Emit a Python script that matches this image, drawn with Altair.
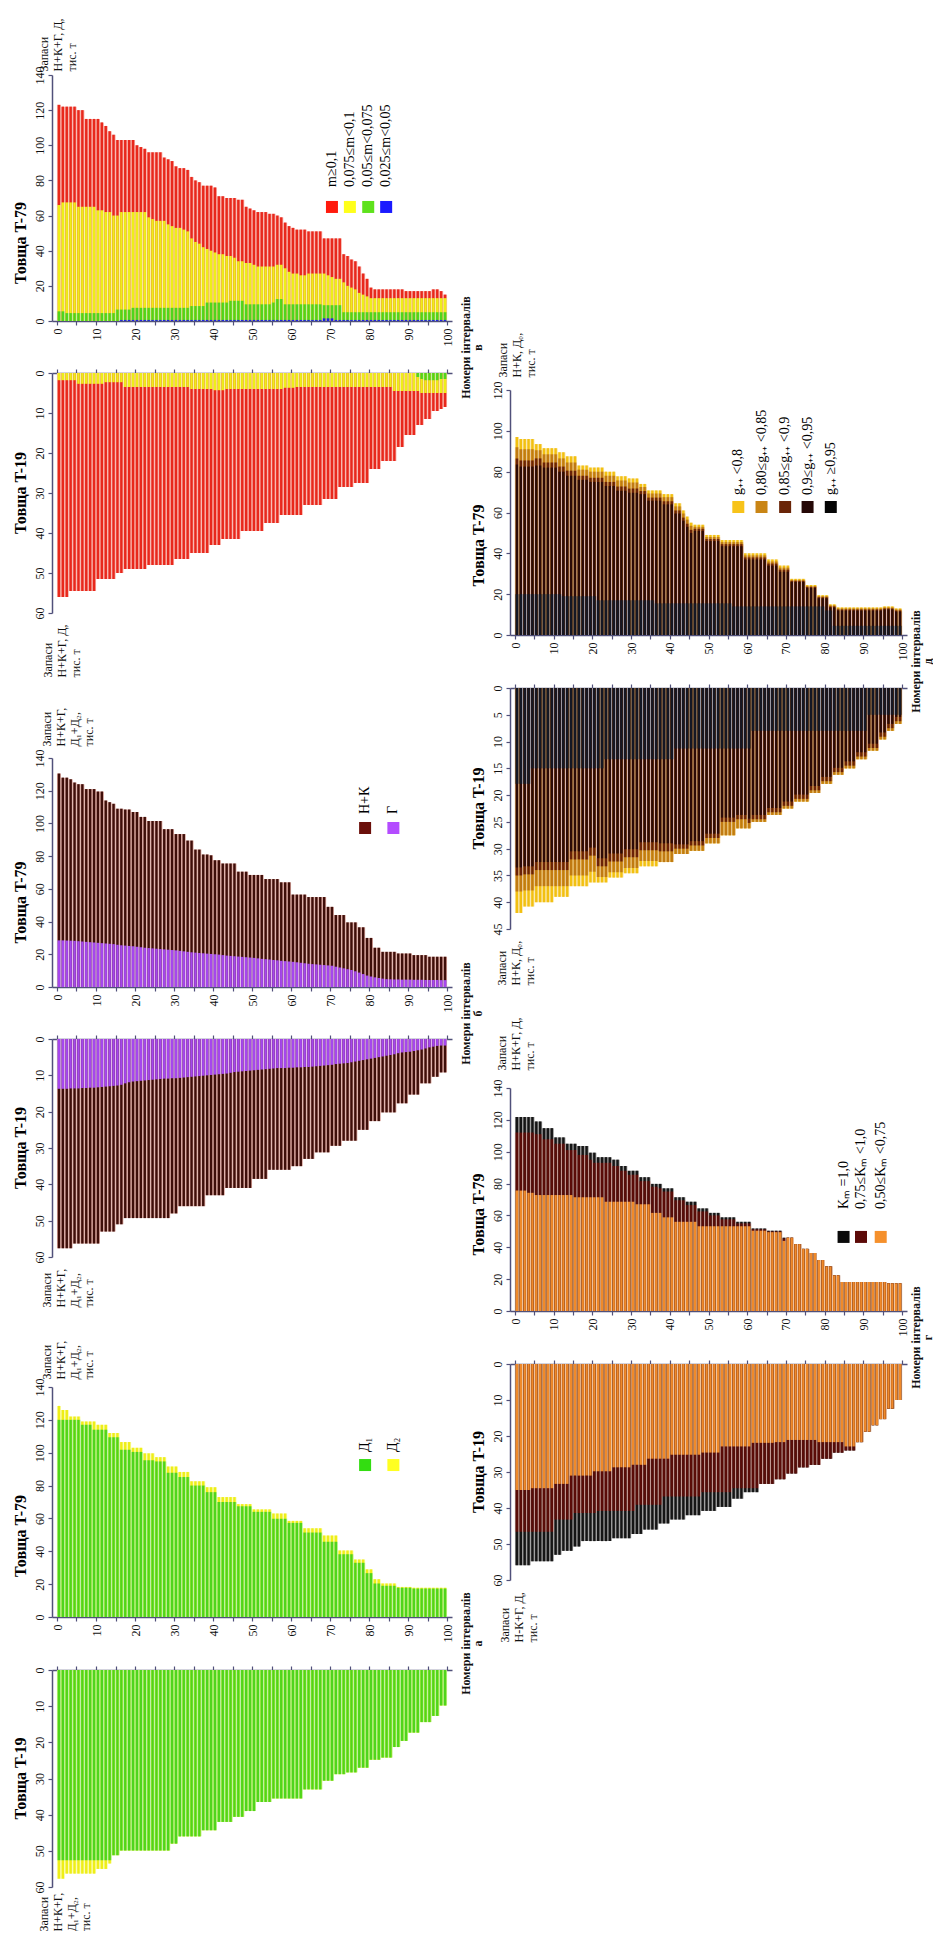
import altair as alt
import pandas as pd

SERIF = "Liberation Serif"
AX = "#50507a"

# ---------------- panel в (m) ----------------
V79_TOTAL = [123,122,122,122,122,120,120,115,115,115,
             115,113,111,108,106,103,103,103,103,103,
             100,99,98,96,96,96,96,93,92,91,
             88,87,87,86,82,80,79,77,77,77,
             76,71,71,70,70,70,69,69,65,64,
             63,62,62,62,61,61,60,59,56,54,
             53,52,52,52,51,51,51,51,47,47,
             47,47,47,38,37,35,34,31,27,24,
             19,18,18,18,18,18,18,18,18,17,
             17,17,17,17,17,17,18,18,17,15]
V79_YEL = [66,67.5,67.5,67.5,67.5,65,65,65,65,65,
           63,63,62,62,60,60,62,62,62,62,
           62,62,62,59,58,57,57,57,55,54,
           53,53,52,51,47,45,44,42,41,40,
           39,38,38,37,37,36,34,34,33,33,
           32,31,31,31,31,31,32,32,30,28,
           27,27,26,26,27,27,27,27,27,26,
           25,24,24,22,20,19,18,16,15,14,
           13,13,13,13,13,13,13,13,13,13,
           13,13,13,13,13,13,13,13,13,13]
V79_GRN = [5.5,5.5,4.5,4.5,4.5,4.5,4.5,4.5,4.5,4.5,
           4.5,4.5,4.5,4.5,4.5,6.5,6.5,6.5,6.5,7.5,
           7.5,7.5,7.5,7.5,7.5,7.5,7.5,7.5,7.5,7.5,
           7.5,7.5,7.5,7.5,8.5,8.5,8.5,8.5,10.5,10.5,
           10.5,10.5,10.5,10.5,11.5,11.5,11.5,11.5,9.5,9.5,
           9.5,9.5,9.5,9.5,9.5,10.5,12.5,12.5,9.5,9.5,
           9.5,9.5,9.5,9.5,9.5,9.5,9.5,9.5,9,9,
           9,9,9,5,5,5,5,5,5,5,
           5,5,5,5,5,5,5,5,5,5,
           5,5,5,5,5,5,5,5,5,5]
V79_BLU = [0,0,0,0,0,0,0,0,0,0,
           0,0,0,0,0,0,0.6,0.6,0.6,0.6,
           0.6,0.6,0.6,0.6,0.6,0.6,0.6,0.6,0.6,0.6,
           0.6,0.6,0.6,0.6,0.6,0.6,0.6,0.6,0.6,0.6,
           0.6,0.6,0.6,0.6,0.6,0.6,0.6,0.6,0.6,0.6,
           0.6,0.6,0.6,0.6,0.6,0.6,0.6,0.6,0.6,0.6,
           0.6,0.6,0.6,0.6,0.6,0.6,0.6,0.6,1.5,1.5,
           1.5,0.6,0.6,0.6,0.6,0.6,0.6,0.6,0.6,0.6,
           0.6,0.6,0.6,0.6,0.6,0.6,0.6,0.6,0.6,0.6,
           0.6,0.6,0.6,0.6,0.6,0.6,0.6,0.6,0.6,0.6]
V19_TOTAL = [56,56,56,54.5,54.5,54.5,54.5,54.5,54.5,54.5,
             51.5,51.5,51.5,51.5,51.5,50,50,49,49,49,
             49,49,49,48,48,48,48,48,48,48,
             46.5,46.5,46.5,46.5,45,45,45,45,45,43,
             43,43,41.5,41.5,41.5,41.5,41.5,39.5,39.5,39.5,
             39.5,39.5,39.5,37.5,37.5,37.5,37.5,35.5,35.5,35.5,
             35.5,35.5,35.5,33,33,33,33,33,31.5,31.5,
             31.5,31.5,28.5,28.5,28.5,28.5,27.5,27.5,27.5,27.5,
             24,24,24,22,22,22,22,18.5,18.5,15.5,
             15.5,15.5,13,13,11.5,11.5,9.5,9.5,9,8.5]
V19_YEL = [1.8,1.8,1.8,1.8,1.8,2.7,2.7,2.7,2.7,2.7,
           2.7,2.7,2.3,2.3,2.3,2.3,2.3,3.5,3.5,3.5,
           3.5,3.5,3.5,3.5,3.5,3.5,3.5,3.5,3.5,3.5,
           3.5,3.5,3.5,3.5,4,4,4,4,4,4,
           4.3,4.3,4.3,4,4,4,4,4,4,4,
           4,4,4,4,4,4,4,4,3.7,3.7,
           3.7,3.5,3.5,3.5,3.5,3.5,3.5,3.5,3.5,3.5,
           3.5,3.5,3.5,3.5,3.5,3.5,3.5,3.5,3.5,3.5,
           3.5,3.5,3.5,3.5,3.5,3.5,4.5,4.5,4.5,4.5,
           4.5,4.5,4.5,5,5,5,5,5,5,5]
V19_GRN = [0,0,0,0,0,0,0,0,0,0,
           0,0,0,0,0,0,0,0,0,0,
           0,0,0,0,0,0,0,0,0,0,
           0,0,0,0,0,0,0,0,0,0,
           0,0,0,0,0,0,0,0,0,0,
           0,0,0,0,0,0,0,0,0,0,
           0,0,0,0,0,0,0,0,0,0,
           0,0,0,0,0,0,0,0,0,0,
           0,0,0,0,0,0,0,0,0,0,
           0,0,1,1.5,1.8,1.8,1.8,1.8,1.5,1.5]

# ---------------- panel б (Н+К, Г) ----------------
B79_TOTAL = [130.5,128,128,127,125,124,124,121,121,121,
             119.5,119.5,114,113,112,109,109,108.5,108.5,107,
             107,104,104,101.5,101.5,101.5,101.5,96.5,96.5,96.5,
             93.5,93.5,93.5,89.5,89.5,84,84,81,81,80.5,
             77.5,77.5,75.5,75.5,75.5,75.5,70.5,70.5,70.5,68.5,
             68.5,68.5,68.5,66,66,66,66,64,64,64,
             56.5,56.5,56.5,56.5,55,55,55,55,55,49,
             49,44,44,44,39.5,39.5,39.5,36.5,36.5,30,
             30,24,24,21.5,21.5,21.5,21.5,20.5,20.5,20.5,
             20.5,19.5,19.5,19.5,19.5,18.5,18.5,18.5,18.5,18.5]
B79_G = [28.5,28.5,28.4,28.3,28.2,28,27.8,27.6,27.4,27.2,
         27,26.8,26.6,26.4,26.2,25.8,25.5,25.3,25.1,24.9,
         24.6,24.3,24,23.8,23.6,23.4,23.2,23,22.8,22.6,
         22.4,22.1,21.8,21.5,21.2,21,20.8,20.6,20.4,20.2,
         20,19.8,19.5,19.2,19,18.8,18.6,18.4,18.2,18,
         17.8,17.5,17.2,17,16.8,16.5,16.3,16,15.8,15.6,
         15.4,15.1,14.8,14.5,14.2,14,13.8,13.6,13.4,13.2,
         13,12.4,11.9,11.4,10.9,10.4,9.6,8.8,7.9,7,
         6.4,5.9,5.5,5.1,4.8,4.7,4.6,4.6,4.5,4.5,
         4.5,4.4,4.4,4.4,4.3,4.3,4.3,4.3,4.2,4.2]
B19_TOTAL = [57.6,57.6,57.6,57.6,56.3,56.3,56.3,56.3,56.3,56.3,
             56.3,53,53,53,53,51,51,49.3,49.3,49.3,
             49.3,49.3,49.3,49.3,49.3,49.3,49.3,49.3,49.3,48,
             48,46,46,46,46,46,46,46,43,43,
             43,43,43,41,41,41,41,41,41,41,
             38.5,38.5,38.5,38.5,36,36,36,36,36,36,
             35,35,35,33,33,33,31.2,31.2,31.2,31.2,
             29.4,29.4,29.4,28,28,28,28,25,25,25,
             22.6,22.6,22.6,20.2,20.2,20.2,20.2,17.7,17.7,17.7,
             15.3,15.3,15.3,12.2,12.2,12.2,10.4,10.4,9.2,9.2]
B19_G = [13.7,13.7,13.7,13.6,13.6,13.6,13.5,13.5,13.4,13.4,
         13.3,13.2,13.1,13,12.9,12.8,12.6,12.2,11.9,11.7,
         11.6,11.5,11.4,11.3,11.2,11.1,11,10.9,10.9,10.8,
         10.8,10.7,10.6,10.5,10.4,10.3,10.2,10.1,10,9.9,
         9.8,9.7,9.6,9.5,9.3,9.1,9,8.9,8.8,8.7,
         8.6,8.5,8.4,8.3,8.2,8.1,8,8,8,7.9,
         7.9,7.8,7.8,7.7,7.7,7.6,7.5,7.4,7.3,7.2,
         7.1,6.9,6.8,6.7,6.6,6.4,6.2,6,5.8,5.6,
         5.4,5.2,5,4.8,4.6,4.4,4.2,3.9,3.7,3.6,
         3.5,3.3,3.1,2.9,2.6,2.3,2.1,1.9,1.8,1.8]

# ---------------- panel а (Д1, Д2) ----------------
A79_TOTAL = [128.5,126,126,122,122,122,119,119,119,119,
             117,117,117,112,112,112,106.5,106.5,106.5,103,
             103,103,99.6,99.6,99.6,97.3,97.3,97.3,91.6,91.6,
             91.6,88.3,88.3,88.3,82.6,82.6,82.6,82.6,79,79,
             79,73,73,73,73,73,68.7,68.7,68.7,68.7,
             65.5,65.5,65.5,65.5,65.5,63,63,63,63,58.5,
             58.5,58.5,58.5,54,54,54,54,54,49.6,49.6,
             49.6,49.6,40.5,40.5,40.5,40.5,35,35,35,29,
             29,23,23,20.4,20.4,20.4,20.4,18.3,18.3,18.3,
             18.3,17.8,17.8,17.8,17.8,17.8,17.8,17.8,17.8,17.8]
A79_D1 = [120,120,120,120,120,120,117,117,117,114,
          114,114,114,109.4,109.4,109.4,101.8,101.8,101.8,100.5,
          100.5,100.5,95.4,95.4,95.4,94.7,94.7,94.7,87.8,87.8,
          87.8,85.2,85.2,85.2,80,80,80,80,76,76,
          76,70,70,70,70,70,67.4,67.4,67.4,67.4,
          64,64,64,64,64,59.8,59.8,59.8,59.8,57.3,
          57.3,57.3,57.3,51.4,51.4,51.4,51.4,51.4,45.8,45.8,
          45.8,45.8,38.2,38.2,38.2,38.2,33,33,33,26.7,
          26.7,20.4,20.4,19,19,19,19,17.8,17.8,17.8,
          17.8,17.3,17.3,17.3,17.3,17.3,17.3,17.3,17.3,17.3]
A19_TOTAL = [57.7,57.7,56.3,56.3,56.3,56.3,56.3,56.3,56.3,56.3,
             55,55,55,53.5,51.2,51.2,49.9,49.9,49.9,49.9,
             49.9,49.9,49.9,49.9,49.9,49.9,49.9,49.9,49.9,48,
             48,46,46,46,46,46,46,44.3,44.3,44.3,
             44.3,42,42,42,42,40.6,40.6,40.6,39,39,
             39,36.5,36.5,36.5,36.5,35.5,35.5,35.5,35.5,35.5,
             35.5,35.5,35.5,33,33,33,33,33,30.6,30.6,
             30.6,28.8,28.8,28.8,28.3,28.3,28.3,27,27,27,
             24.8,24.8,24.8,24.2,24.2,24.2,21.3,21.3,19.6,19.6,
             17.3,17.3,17.3,14.4,14.4,14.4,12.7,12.7,9.8,9.8]
A19_D1 = [52.6,52.6,52.6,52.6,52.6,52.6,52.6,52.6,52.6,52.6,
          52.6,52.6,52.6,52.6,51.2,51.2,49.9,49.9,49.9,49.9,
          49.9,49.9,49.9,49.9,49.9,49.9,49.9,49.9,49.9,48,
          48,46,46,46,46,46,46,44.3,44.3,44.3,
          44.3,42,42,42,42,40.6,40.6,40.6,39,39,
          39,36.5,36.5,36.5,36.5,35.5,35.5,35.5,35.5,35.5,
          35.5,35.5,35.5,33,33,33,33,33,30.6,30.6,
          30.6,28.8,28.8,28.8,28.3,28.3,28.3,27,27,27,
          24.8,24.8,24.8,24.2,24.2,24.2,21.3,21.3,19.6,19.6,
          17.3,17.3,17.3,14.4,14.4,14.4,12.7,12.7,9.8,9.8]

# ---------------- panel д (g) ----------------
D79_TOTAL = [97,96,96,96,96,93.5,93.5,91.5,91.5,91.5,
             91.5,89.5,89.5,87.5,87.5,87.5,83,83,83,82,
             82,82,82,80,80,80,77.7,77.7,77.7,76.7,
             76.7,76.7,74,74,70.8,70.8,70.8,70.8,69,69,
             69,64.5,64.5,61,58,55,54,54,54,49,
             49,49,49,46.5,46.5,46.5,46.5,46.5,46.5,40,
             40,40,40,40,40,37,37,37,34,34,
             34,27.5,27.5,27.5,27.5,24.5,24.5,24.5,19.5,19.5,
             19.5,15,15,13.5,13.5,13.5,13.5,13.5,13.5,13.5,
             13.5,13.5,13.5,13.5,13.5,14,14,14,13,13]
D79_L80 = [92,91,91,91,91,90.5,90.5,88.5,88.5,88.5,
           88.5,86.5,86.5,84.5,84.5,84.5,81,81,81,80,
           80,80,80,78,78,78,75.7,75.7,75.7,74.7,
           74.7,74.7,72.5,72.5,69.3,69.3,69.3,69.3,67.5,67.5,
           67.5,63,63,59.5,56.5,53.5,53,53,53,48,
           48,48,48,45.5,45.5,45.5,45.5,45.5,45.5,39,
           39,39,39,39,39,36,36,36,33,33,
           33,27,27,27,27,24,24,24,19,19,
           19,14.5,14.5,13,13,13,13,13,13,13,
           13,13,13,13,13,13.5,13.5,13.5,12.5,12.5]
D79_L85 = [86.5,85.5,85.5,85.5,85.5,86.5,86.5,84.5,84.5,84.5,
           84.5,82.5,82.5,80.5,80.5,80.5,78,78,78,77,
           77,77,77,75,75,75,72.7,72.7,72.7,71.7,
           71.7,71.7,70.5,70.5,67.3,67.3,67.3,67.3,65.5,65.5,
           65.5,61,61,57.5,54.5,51.5,52,52,52,47,
           47,47,47,44.5,44.5,44.5,44.5,44.5,44.5,38,
           38,38,38,38,38,35,35,35,32,32,
           32,26.5,26.5,26.5,26.5,23.5,23.5,23.5,18.5,18.5,
           18.5,14,14,12.5,12.5,12.5,12.5,12.5,12.5,12.5,
           12.5,12.5,12.5,12.5,12.5,13,13,13,12,12]
D79_L90 = [83.5,82.5,82.5,82.5,82.5,83,83,82,82,82,
           82,80,80,78,78,78,76,76,76,75,
           75,75,75,73,73,73,70.7,70.7,70.7,69.7,
           69.7,69.7,69,69,65.8,65.8,65.8,65.8,64,64,
           64,59.5,59.5,56,53,50,51,51,51,46,
           46,46,46,43.5,43.5,43.5,43.5,43.5,43.5,37,
           37,37,37,37,37,34,34,34,31,31,
           31,26,26,26,26,23,23,23,18,18,
           18,13.5,13.5,12,12,12,12,12,12,12,
           12,12,12,12,12,12.5,12.5,12.5,11.5,11.5]
D79_L95 = [20,20,20,20,20,20,20,20,20,20,
           20,20,19,19,19,19,19,19,19,19,
           19,17,17,17,17,17,17,17,17,17,
           17,17,17,17,17,17,15.5,15.5,15.5,15.5,
           15.5,15.5,15.5,15.5,15.5,15.5,15.5,15.5,15.5,15.5,
           15.5,15.5,15.5,15.5,15.5,15.5,14,14,14,14,
           14,14,14,14,14,14,14,14,14,14,
           14,14,14,14,14,14,14,14,14,14,
           12,12,4.5,4.5,4.5,4.5,4.5,4.5,4.5,4.5,
           4.5,4.5,4.5,4.5,4.5,4.5,4.5,4.5,4.5,4.5]
D19_TOTAL = [42,42,40.8,40.8,40.8,40,40,40,40,40,
             39,39,39,39,37,37,37,37,37,36.3,
             36.3,36.3,36.3,36.3,35.4,35.4,35.4,35.4,34.6,34.6,
             34.6,34.6,33.3,33.3,33.3,33.3,33.3,32.5,32.5,32.5,
             32.5,31,31,31,31,30.4,30.4,30.4,30.4,29,
             29,29,29,27.5,27.5,27.5,27.5,26.2,26.2,26.2,
             26.2,25,25,25,25,23.7,23.7,23.7,23.7,22.5,
             22.5,22.5,21.2,21.2,21.2,21.2,19.6,19.6,19.6,17.9,
             17.9,17.9,16.2,16.2,16.2,15,15,15,13.3,13.3,
             13.3,11.7,11.7,11.7,9.6,9.6,8,8,6.7,6.7]
D19_L80 = [38,38,37.8,37.8,37.8,37,37,37,37,37,
           37,37,37,37,35,35,35,35,35,34.3,
           34.3,35.3,35.3,35.3,34.4,34.4,34.4,34.4,33.6,33.6,
           33.6,33.6,32.3,32.3,32.3,32.3,32.3,32.5,32.5,32.5,
           32.5,31,31,31,31,30.4,30.4,30.4,30.4,29,
           29,29,29,27.5,27.5,27.5,27.5,26.2,26.2,26.2,
           26.2,25,25,25,25,23.7,23.7,23.7,23.7,22.5,
           22.5,22.5,21.2,21.2,21.2,21.2,19.6,19.6,19.6,17.9,
           17.9,17.9,16.2,16.2,16.2,15,15,15,13.3,13.3,
           13.3,11.7,11.7,11.7,9.6,9.6,8,8,6.7,6.7]
D19_L85 = [35,35,34.8,34.8,34.8,34,34,34,34,34,
           34,34,34,34,32,32,32,32,32,31.3,
           31.3,33.3,33.3,33.3,32.4,32.4,32.4,32.4,31.6,31.6,
           31.6,31.6,30.3,30.3,30.3,30.3,30.3,30.5,30.5,30.5,
           30.5,30,30,30,30,29.4,29.4,29.4,29.4,28,
           28,28,28,25,25,25,25,24.5,24.5,24.5,
           25.2,24.5,24.5,24.5,24.5,23.2,23.2,23.2,23.2,22,
           22,22,20.7,20.7,20.7,20.7,19.1,19.1,19.1,17.4,
           17.4,17.4,15.7,15.7,15.7,14.5,14.5,14.5,12.8,12.8,
           12.8,11.2,11.2,11.2,9.1,9.1,7.5,7.5,6.2,6.2]
D19_L90 = [33.5,33.5,33.3,33.3,33.3,32.5,32.5,32.5,32.5,32.5,
           32.5,32.5,32.5,32.5,30.5,30.5,30.5,30.5,30.5,29.8,
           29.8,31.8,31.8,31.8,30.9,30.9,30.9,30.9,30.1,30.1,
           30.1,30.1,28.8,28.8,28.8,28.8,28.8,29,29,29,
           29,29.2,29.2,29.2,29.2,28.6,28.6,28.6,28.6,27.2,
           27.2,27.2,27.2,24.2,24.2,24.2,24.2,23.7,23.7,23.7,
           24.4,23.7,23.7,23.7,23.7,22.4,22.4,22.4,22.4,21.2,
           21.2,21.2,19.9,19.9,19.9,19.9,18.3,18.3,18.3,16.6,
           16.6,16.6,14.9,14.9,14.9,13.7,13.7,13.7,12,12,
           12,10.4,10.4,10.4,8.3,8.3,6.7,6.7,5.4,5.4]
D19_L95 = [17.9,17.9,17.9,17.9,15,15,15,15,15,15,
           15,15,15,15,15,15,15,15,15,15,
           15,15,15,13.3,13.3,13.3,13.3,13.3,13.3,13.3,
           13.3,13.3,13.3,13.3,13.3,13.3,13.3,13.3,13.3,13.3,
           13.3,11.3,11.3,11.3,11.3,11.3,11.3,11.3,11.3,11.3,
           11.3,11.3,11.3,11.3,11.3,11.3,11.3,11.3,11.3,11.3,
           11.3,8,8,8,8,8,8,8,8,8,
           8,8,8,8,8,8,8,8,8,8,
           8,8,8,8,8,8,8,8,8,8,
           8,5,5,5,5,5,5,5,5,5]

# ---------------- panel г (Kм) ----------------
G79_TOTAL = [121.8,121.8,121.8,121.8,121.8,119,119,114.8,114.8,114.8,
             109,109,109,105,105,105,103.6,103.6,103.6,99.4,
             99.4,96.6,96.6,96.6,96.6,95,95,91,91,88,
             88,88,84,84,84,79.8,79.8,79.8,77,77,
             77,71.4,71.4,71.4,68.6,68.6,68.6,64.4,64.4,64.4,
             61.6,61.6,61.6,58.8,58.8,58.8,58.8,56,56,56,
             56,51.8,51.8,51.8,51.8,50.4,50.4,50.4,50.4,46,
             46,46,42,42,39,39,36.4,36.4,32,32,
             28,28,22.4,22.4,18.2,18.2,18.2,18.2,18.2,18.2,
             18.2,18.2,18.2,18.2,18.2,18.2,17.4,17.4,17.4,17.4]
G79_K75 = [112,112,112,112,112,111,111,107.8,107.8,107.8,
           105,105,105,101,101,101,98,98,98,95,
           93,93,93,93,93,91,91,88,88,85.5,
           85.5,85.5,81.5,81.5,81.5,78,78,77,75,75,
           75,69.5,69.5,69.5,66.5,66.5,66.5,62.5,62.5,62.5,
           60,60,60,57.5,57.5,57.5,57.5,55,55,55,
           55,51.3,51.3,51.3,51.3,50,50,50,50,45.5,
           46,46,42,42,39,39,36.4,36.4,32,32,
           28,28,22.4,22.4,18.2,18.2,18.2,18.2,18.2,18.2,
           18.2,18.2,18.2,18.2,18.2,18.2,17.4,17.4,17.4,17.4]
G79_K50 = [75.6,75.6,75.6,74.2,74.2,72.8,72.8,72.8,72.8,72.8,
           72.8,72.8,72.8,72.8,72.8,71.4,71.4,71.4,71.4,71.4,
           71.4,71.4,71.4,68.6,68.6,68.6,68.6,68.6,68.6,68.6,
           68.6,67,67,67,67,61.6,61.6,61.6,58.8,58.8,
           58.8,56,56,56,56,56,56,53.2,53.2,53.2,
           53.2,53.2,53.2,53.2,53.2,53.2,53.2,53.2,53.2,53.2,
           53.2,50.4,50.4,50.4,50.4,49.5,49.5,49.5,49.5,44,
           46,46,42,42,39,39,36.4,36.4,32,32,
           28,28,22.4,22.4,18.2,18.2,18.2,18.2,18.2,18.2,
           18.2,18.2,18.2,18.2,18.2,18.2,17.4,17.4,17.4,17.4]
G19_TOTAL = [55.9,55.9,55.9,55.9,54.8,54.8,54.8,54.8,54.8,54.8,
             53,53,51.9,51.9,51.9,50.7,50.7,49.2,49.2,49.2,
             49.2,49.2,49.2,49.2,49.2,48.4,48.4,48.4,48.4,48.4,
             47.2,47.2,47.2,46,46,46,46,44.3,44.3,44.3,
             43.2,43.2,43.2,43.2,42,42,42,42,40.8,40.8,
             40.8,40.8,39.7,39.7,39.7,39.7,37.4,37.4,37.4,35.6,
             35.6,35.6,35.6,33.3,33.3,33.3,33.3,32,32,32,
             30.4,30.4,30.4,28.7,28.7,28.7,28,28,28,26.3,
             26.3,26.3,24.6,24.6,24.6,24,24,24,21.7,21.7,
             18.8,18.8,17,17,15.3,15.3,12.4,12.4,10,10]
G19_K75 = [46.6,46.6,46.6,46.6,46.6,46.6,46.6,46.6,46.6,46.6,
           43.2,43.2,43.2,43.2,43.2,41.4,41.4,41.4,41.4,41.4,
           41.4,40.8,40.8,40.8,40.8,40.8,40.8,40.8,40.8,40.8,
           40.8,39.1,39.1,39.1,39.1,39.1,39.1,39.1,36.8,36.8,
           36.8,36.8,36.8,36.8,36.8,36.8,36.8,36.8,35.6,35.6,
           35.6,35.6,35.6,35.6,35.6,35.6,34.5,34.5,34.5,34.5,
           34.5,34.5,34.5,33.3,33.3,33.3,33.3,32,32,32,
           30.4,30.4,30.4,28.7,28.7,28.7,28,28,28,26.3,
           26.3,26.3,24.6,24.6,24.6,24,24,24,21.7,21.7,
           18.8,18.8,17,17,15.3,15.3,12.4,12.4,10,10]
G19_K50 = [35,35,35,35,34.5,34.5,34.5,34.5,34.5,34.5,
           33.3,33.3,33.3,33.3,31,31,31,31,31,31,
           29.8,29.8,29.8,29.8,29.8,28.7,28.7,28.7,28.7,28.7,
           28,28,28,28,26.3,26.3,26.3,26.3,26.3,26.3,
           25.2,25.2,25.2,25.2,25.2,25.2,25.2,25.2,24.6,24.6,
           24.6,24.6,24.6,22.9,22.9,22.9,22.9,22.9,22.9,22.9,
           22.9,21.9,21.9,21.9,21.9,21.9,21.9,21.7,21.7,21.7,
           21.1,21.1,21.1,21.1,21.1,21.1,21.1,21.1,21.7,21.7,
           21.7,21.7,21.7,21.7,21.7,22.9,22.9,22.9,21.7,21.7,
           18.8,18.8,17,17,15.3,15.3,12.4,12.4,10,10]

# ---------------- legend texts ----------------
LEG_V = ["m≥0,1", "0,075≤m<0,1", "0,05≤m<0,075", "0,025≤m<0,05"]
LEG_B = ["Н+К", "Г"]
LEG_A = ["Д₁", "Д₂"]
LEG_D = ["g₊₊  <0,8", "0,80≤g₊₊  <0,85", "0,85≤g₊₊  <0,9", "0,9≤g₊₊  <0,95", "g₊₊  ≥0,95"]
LEG_G = ["Kₘ =1,0", "0,75≤Kₘ <1,0", "0,50≤Kₘ <0,75"]


def long_frame(series):
    rows = []
    for order, (name, vals) in enumerate(series):
        for k, v in enumerate(vals):
            rows.append({"i": k + 0.5, "s": name, "v": v, "o": order})
    return pd.DataFrame(rows)


def panel(series, dark, light, ymax, ystep, width, height, top, letter,
          ytitle, ty_x, ty_y, ttl, ttl_dx, legend=None, xt_gap=8):
    df = long_frame(series)
    names = [n for n, _ in series]
    ticks = list(range(0, 101, 5))
    if top:
        xaxis = alt.Axis(orient="bottom", values=ticks,
                         labelExpr="datum.value % 10 === 0 ? datum.label : ''",
                         labelAngle=270, labelAlign="right", labelBaseline="middle",
                         labelPadding=3, labelFontSize=12, labelOverlap=False,
                         labelFlush=False, tickSize=4, grid=False,
                         title=["Номери інтервалів", letter], titleAngle=270,
                         titleAlign="center", titleBaseline="top",
                         titleX=width + xt_gap, titleY=26, titleFontSize=12,
                         titleFontWeight="bold", titleLineHeight=12)
        yscale = alt.Scale(domain=[0, ymax], nice=False)
    else:
        xaxis = alt.Axis(orient="top", values=ticks, labels=False, tickSize=4,
                         grid=False, title="")
        yscale = alt.Scale(domain=[0, ymax], nice=False, reverse=True)
    yaxis = alt.Axis(values=list(range(0, ymax + 1, ystep)), labelAngle=270,
                     labelAlign="center", labelBaseline="bottom", labelPadding=2,
                     labelFontSize=12, labelOverlap=False, labelFlush=False,
                     tickSize=4, grid=False, title=list(ytitle), titleAngle=270,
                     titleAlign="left", titleBaseline="top", titleX=ty_x,
                     titleY=ty_y, titleFontSize=12, titleFontWeight="normal",
                     titleLineHeight=14)
    x_enc = alt.X("i:Q", scale=alt.Scale(domain=[0, 100], nice=False, zero=False),
                  axis=xaxis)
    y_enc = alt.Y("v:Q", scale=yscale, axis=yaxis, stack=None)
    step = width / 100.0
    base = alt.Chart(df)
    light_l = base.mark_bar(size=step, orient="vertical").encode(
        x=x_enc, y=y_enc,
        color=alt.Color("s:N", scale=alt.Scale(domain=names, range=light), legend=None),
        order=alt.Order("o:Q"))
    dark_l = base.mark_bar(size=step * 0.6, orient="vertical").encode(
        x=x_enc, y=y_enc,
        color=alt.Color("s:N", scale=alt.Scale(domain=names, range=dark), legend=None),
        order=alt.Order("o:Q"))
    layers = [light_l, dark_l]
    if legend is not None:
        lx, ly, ty, labels, cols = legend
        sq = alt.Chart(pd.DataFrame({"i": lx, "v": [ly] * len(lx), "c": cols})).mark_square(
            size=144, opacity=1).encode(x=x_enc, y=y_enc,
                                        color=alt.Color("c:N", scale=None, legend=None))
        tx = alt.Chart(pd.DataFrame({"i": lx, "v": [ty] * len(lx), "t": labels})).mark_text(
            angle=270, align="left", baseline="middle", font=SERIF, fontSize=14,
            color="black").encode(x=x_enc, y=y_enc, text="t:N")
        layers += [sq, tx]
    return alt.layer(*layers).resolve_scale(color="independent").properties(
        width=width, height=height,
        title=alt.TitleParams(text=ttl, orient="left", anchor="middle", frame="group",
                              offset=4, dx=ttl_dx, font=SERIF, fontSize=16,
                              fontWeight="bold", color="black"))


def spacer(w, h):
    return alt.Chart(pd.DataFrame({"i": [0.0], "v": [0.0]})).mark_point(opacity=0).encode(
        x=alt.X("i:Q", axis=None), y=alt.Y("v:Q", axis=None)).properties(width=w, height=h)


WL = 400
WR = 397
T79 = "Товща T-79"
T19 = "Товща T-19"

RED = ("#e8281c", "#f7aaa2")
YEL = ("#eeee18", "#fbfba6")
GRN = ("#4fd51c", "#b2f0a0")
BLU = ("#2020e6", "#a8a8f5")
BRN = ("#3e0e09", "#d9a59c")
PUR = ("#a646ee", "#e2b8fb")

def cols(*pairs):
    return [p[0] for p in pairs], [p[1] for p in pairs]

d, l = cols(RED, YEL, GRN, BLU)
v79 = panel([("r", V79_TOTAL), ("y", V79_YEL), ("g", V79_GRN), ("b", V79_BLU)], d, l,
            140, 20, WL, 246, True, "в", ["Запаси", "Н+К+Г, Д,", "тис. т"], -14, -4,
            T79, -45,
            legend=([70.5, 75.1, 79.8, 84.4], 64.9, 76.3, LEG_V,
                    ["#ff1a0d", "#ffff1a", "#5ee21c", "#1a1aff"]))
d, l = cols(RED, YEL, GRN)
v19 = panel([("r", V19_TOTAL), ("y", V19_YEL), ("g", V19_GRN)], d, l,
            60, 10, WL, 240, False, "", ["Запаси", "Н+К+Г, Д,", "тис. т"], -10, 240 + 64,
            T19, 0)
d, l = cols(BRN, PUR)
b79 = panel([("nk", B79_TOTAL), ("g", B79_G)], d, l, 140, 20, WL, 229, True, "б",
            ["Запаси", "Н+К+Г,", "Д₁+Д₂,", "тис. т"], -11, -12, T79, -30,
            legend=([79, 86.25], 97.2, 105.7, LEG_B, ["#6b0f0a", "#b44cff"]))
b19 = panel([("nk", B19_TOTAL), ("g", B19_G)], d, l, 60, 10, WL, 218, False, "",
            ["Запаси", "Н+К+Г,", "Д₁+Д₂,", "тис. т"], -11, 218 + 50, T19, 0)
d, l = cols(YEL, GRN)
a79 = panel([("d2", A79_TOTAL), ("d1", A79_D1)], d, l, 140, 20, WL, 230, True, "а",
            ["Запаси", "Н+К+Г,", "Д₁+Д₂,", "тис. т"], -11, -8, T79, -34,
            legend=([79, 86.25], 92.5, 100.4, LEG_A, ["#33dd11", "#ffff22"]))
a19 = panel([("d2", A19_TOTAL), ("d1", A19_D1)], d, l, 60, 10, WL, 217, False, "",
            ["Запаси", "Н+К+Г,", "Д₁+Д₂,", "тис. т"], -14, 217 + 44, T19, 0)

GOLD = ("#f2c011", "#fae4a0")
ORB = ("#c07a12", "#e6c08f")
BR2 = ("#6a2207", "#cf9c86")
DKB = ("#2c0a06", "#dcbab8")
BLK = ("#141724", "#8a8e9c")
d, l = cols(GOLD, ORB, BR2, DKB, BLK)
d79 = panel([("a", D79_TOTAL), ("b", D79_L80), ("c", D79_L85), ("d", D79_L90), ("e", D79_L95)],
            d, l, 120, 20, WR, 245, True, "д", ["Запаси", "Н+К, Д₀,", "тис. т"], -13, -13,
            T79, -33, xt_gap=3,
            legend=([57.7, 63.7, 69.8, 75.6, 81.6], 62.7, 68.6, LEG_D,
                    ["#f7c31a", "#c98515", "#6a2508", "#250806", "#050505"]))
d19 = panel([("a", D19_TOTAL), ("b", D19_L80), ("c", D19_L85), ("d", D19_L90), ("e", D19_L95)],
            d, l, 45, 5, WR, 241, False, "", ["Запаси", "Н+К, Д₀,", "тис. т"], -14, 241 + 56,
            T19, 0)

KBL = ("#151515", "#8c8c8c")
KRD = ("#5a0c08", "#c9958e")
KOR = ("#f08a2a", "#f9cb9f")
d, l = cols(KBL, KRD, KOR)
g79 = panel([("k1", G79_TOTAL), ("k75", G79_K75), ("k50", G79_K50)], d, l, 140, 20, WR, 223,
            True, "г", ["Запаси", "Н+К+Г, Д,", "тис. т"], -14, -18, T79, -15, xt_gap=3,
            legend=([84.9, 89.4, 94.5], 46.5, 64, LEG_G, ["#0a0a0a", "#5c0a08", "#f5902c"]))
g19 = panel([("k1", G19_TOTAL), ("k75", G19_K75), ("k50", G19_K50)], d, l, 60, 10, WR, 216,
            False, "", ["Запаси", "Н-К+Г, Д,", "тис. т"], -11, 216 + 62, T19, 0)

left = alt.vconcat(v79, spacer(WL, 52), v19, spacer(WL, 145), b79, spacer(WL, 52), b19,
                   spacer(WL, 130), a79, spacer(WL, 53), a19, spacing=0, bounds="flush")
right = alt.vconcat(spacer(WR, 315), d79, spacer(WR, 53), d19, spacer(WR, 159), g79,
                    spacer(WR, 53), g19, spacing=0, bounds="flush")

chart = alt.hconcat(left, right, spacing=-13).properties(
    padding={"left": 4, "top": 10, "right": 0, "bottom": 0}
).configure_view(strokeWidth=0).configure_axis(
    labelFont=SERIF, titleFont=SERIF, labelColor="#111111", titleColor="#111111",
    domainColor=AX, tickColor=AX, domainWidth=1.5, tickWidth=1.2
).configure_title(font=SERIF)

chart.save("out.html", embed_options={"renderer": "svg", "actions": False})
